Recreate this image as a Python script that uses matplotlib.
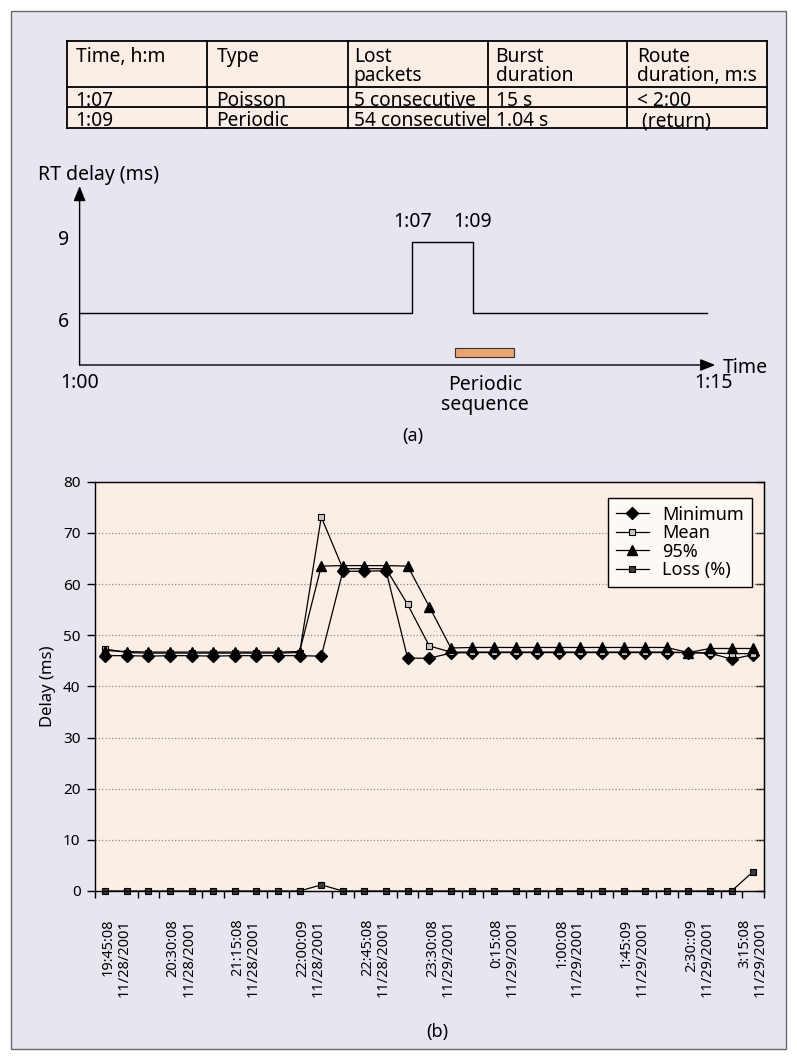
import numpy as np
import matplotlib
matplotlib.use('Agg')
import matplotlib.pyplot as plt
from matplotlib.patches import Rectangle

W, H = 797, 1060
plt.rcParams['font.family'] = ['Noto Sans', 'DejaVu Sans']

LAVENDER = '#e6e6f0'
PEACH = '#fbeee4'
ORANGE = '#e9a56d'

# --- table ---
table_header = ["Time, h:m", "Type", "Lost\npackets", "Burst\nduration", "Route\nduration, m:s"]
table_rows = [["1:07", "Poisson", "5 consecutive", "15 s", "< 2:00"],
              ["1:09", "Periodic", "54 consecutive", "1.04 s", " (return)"]]

# --- (a) schematic RT delay; x in minutes after 1:00 (sketch, not to scale) ---
base_delay = 6
burst_delay = 9
burst_start = 7.87      # drawn position of 1:07
burst_end = 9.29        # drawn position of 1:09
trace_end = 14.83
periodic_seq = (8.88, 10.28)
a_time_labels = ["1:00", "1:15"]
a_time_pos = [0, 15]

# --- (b) measured delay ---
x_labels = ["19:45:08\n11/28/2001", "20:30:08\n11/28/2001", "21:15:08\n11/28/2001",
            "22:00:09\n11/28/2001", "22:45:08\n11/28/2001", "23:30:08\n11/29/2001",
            "0:15:08\n11/29/2001", "1:00:08\n11/29/2001", "1:45:09\n11/29/2001",
            "2:30::09\n11/29/2001", "3:15:08\n11/29/2001"]
min_delay = [46.0, 46.0, 45.9, 46.0, 46.0, 45.9, 46.0, 46.0, 46.0, 46.0,
             45.9, 62.5, 62.5, 62.6, 45.5, 45.5, 46.5, 46.6, 46.6, 46.6,
             46.6, 46.6, 46.6, 46.6, 46.6, 46.6, 46.6, 46.6, 46.5, 45.3, 46.2]
mean_delay = [47.3, 46.6, 46.5, 46.5, 46.5, 46.5, 46.5, 46.5, 46.5, 46.6,
              73.1, 63.0, 63.0, 63.0, 56.0, 47.9, 46.7, 46.7, 46.7, 46.7,
              46.7, 46.7, 46.7, 46.7, 46.7, 46.7, 46.7, 46.6, 46.5, 46.4, 46.4]
p95_delay = [47.0, 46.8, 46.7, 46.7, 46.7, 46.7, 46.7, 46.7, 46.7, 46.8,
             63.5, 63.6, 63.6, 63.6, 63.5, 55.6, 47.5, 47.6, 47.6, 47.6,
             47.6, 47.6, 47.6, 47.6, 47.6, 47.6, 47.6, 46.6, 47.4, 47.4, 47.4]
loss_pct = [0, 0, 0, 0, 0, 0, 0, 0, 0, 0,
            1.2, 0, 0, 0, 0, 0, 0, 0, 0, 0,
            0, 0, 0, 0, 0, 0, 0, 0, 0, 0, 3.8]


def px_axes(l, t, r, b):
    return fig.add_axes([l / W, 1 - b / H, (r - l) / W, (b - t) / H])


def ftext(x, y, s, **kw):
    return fig.text(x / W, 1 - y / H, s, **kw)


fig = plt.figure(figsize=(W / 100, H / 100), dpi=100, facecolor='white')

# background frame + table in pixel coordinates
bg = fig.add_axes([0, 0, 1, 1], zorder=-5)
bg.set_xlim(0, W)
bg.set_ylim(H, 0)
bg.axis('off')
bg.add_patch(Rectangle((11, 11), 775, 1038, facecolor=LAVENDER, edgecolor='#6a6a6a', lw=1))

col_x = [66.7, 207.3, 347.7, 487.6, 627.3, 767]
row_y = [40.7, 87.3, 107.3, 127.7]
bg.add_patch(Rectangle((col_x[0], row_y[0]), col_x[-1] - col_x[0], row_y[-1] - row_y[0],
                       facecolor=PEACH, edgecolor='none'))
for yy in row_y:
    bg.plot([col_x[0], col_x[-1]], [yy, yy], color='black', lw=1.3, solid_capstyle='projecting')
for xx in col_x:
    bg.plot([xx, xx], [row_y[0], row_y[-1]], color='black', lw=1.3, solid_capstyle='projecting')

fs_t = 13.8
pads = [9, 9, 6, 8, 10]
for j, txt in enumerate(table_header):
    bg.text(col_x[j] + pads[j], 47.0, txt, fontsize=fs_t, va='top', ha='left', linespacing=0.94)
for i, row in enumerate(table_rows):
    for j, val in enumerate(row):
        bg.text(col_x[j] + pads[j], [105.5, 126.0][i], val, fontsize=fs_t, va='baseline', ha='left')

# --- (a) ---
ax_a = px_axes(79.6, 186, 714, 365)
ax_a.set_xlim(0, 15)
ymin, ymax = 3.834, 11.333
ax_a.set_ylim(ymin, ymax)
ax_a.axis('off')
ax_a.step([0, burst_start, burst_end, trace_end], [base_delay, burst_delay, base_delay, base_delay],
          where='post', color='black', lw=1.0, clip_on=False)
arrow = dict(arrowstyle='-|>,head_length=0.7,head_width=0.28', color='black', lw=1.0,
             shrinkA=0, shrinkB=0, mutation_scale=13)
ax_a.annotate('', xy=(15.03, ymin), xytext=(0, ymin), arrowprops=arrow, annotation_clip=False)
ax_a.annotate('', xy=(0, ymax), xytext=(0, ymin), arrowprops=arrow, annotation_clip=False)
ax_a.barh(y=4.36, width=periodic_seq[1] - periodic_seq[0], left=periodic_seq[0], height=0.40,
          color=ORANGE, edgecolor='#333333', lw=0.8)

fs_a = 14
nc = dict(textcoords='offset pixels', annotation_clip=False, fontsize=fs_a)
for lvl, dy in [(burst_delay, 1.7), (base_delay, -8.4)]:
    ax_a.annotate(str(lvl), xy=(0, lvl), xytext=(-16, dy), ha='center', va='center', **nc)
for t, lab in [(burst_start, '1:07'), (burst_end, '1:09')]:
    ax_a.annotate(lab, xy=(t, burst_delay), xytext=(0, 20), ha='center', va='center', **nc)
for t, lab in zip(a_time_pos, a_time_labels):
    ax_a.annotate(lab, xy=(t, ymin), xytext=(0, -18), ha='center', va='center', **nc)
ax_a.annotate('Time', xy=(15.03, ymin), xytext=(7, -3), ha='left', va='center', **nc)
ax_a.annotate('Periodic\nsequence', xy=(sum(periodic_seq) / 2, ymin), xytext=(0, -30),
              ha='center', va='center', linespacing=1.0, **nc)
ftext(38.4, 175, 'RT delay (ms)', ha='left', va='center', fontsize=fs_a)
ftext(412.8, 436, '(a)', ha='center', va='center', fontsize=13)

# --- (b) ---
axb = px_axes(94.5, 481.7, 764, 891)
axb.set_facecolor(PEACH)
x = np.arange(len(min_delay))
common = dict(color='black', lw=0.9, clip_on=False)
axb.plot(x, min_delay, marker='D', ms=6, mfc='black', mec='black', label='Minimum', **common)
axb.plot(x, mean_delay, marker='s', ms=5, mfc='#c8c8c8', mec='black', mew=0.8, label='Mean', **common)
axb.plot(x, p95_delay, marker='^', ms=7, mfc='black', mec='black', label='95%', **common)
axb.plot(x, loss_pct, marker='s', ms=5, mfc='#3a3a3a', mec='black', mew=0.8, label='Loss (%)', **common)

axb.set_xlim(-0.5, len(x) - 0.5)
axb.set_ylim(0, 80)
axb.set_yticks(np.arange(0, 81, 10))
axb.grid(axis='y', color='#8c8c8c', ls=':', lw=0.9)
axb.set_axisbelow(True)
for sp in axb.spines.values():
    sp.set_color('black')
    sp.set_linewidth(1.0)

label_idx = np.arange(0, len(x), 3)
label_shift = np.full(len(label_idx), 0.5)
label_shift[-1] = -0.02
axb.set_xticks(label_idx + label_shift, x_labels, rotation=90, fontsize=10.5,
               multialignment='right', linespacing=1.05)
axb.tick_params(axis='x', which='major', length=0, pad=20)
axb.set_xticks(np.arange(-0.5, len(x), 1), minor=True)
axb.tick_params(axis='x', which='minor', length=5, width=1, direction='out')
axb.tick_params(axis='y', length=6, width=1, labelsize=11, pad=4)
axb.set_ylabel('Delay (ms)', fontsize=12, labelpad=5)

sec = axb.secondary_yaxis('right')
sec.set_yticks(np.arange(0, 81, 10))
sec.tick_params(direction='in', length=6, width=1, labelright=False)

leg = axb.legend(loc='upper right', bbox_to_anchor=(0.982, 0.961), borderaxespad=0,
                 fontsize=13, frameon=True, fancybox=False, edgecolor='black',
                 facecolor='#fdf9f5', framealpha=1, labelspacing=0.02, handlelength=1.8,
                 handletextpad=0.75, borderpad=0.45)
leg.get_frame().set_linewidth(1.0)

ftext(437, 1031.7, '(b)', ha='center', va='center', fontsize=13)

fig.savefig('out.png', dpi=100, facecolor='white')
